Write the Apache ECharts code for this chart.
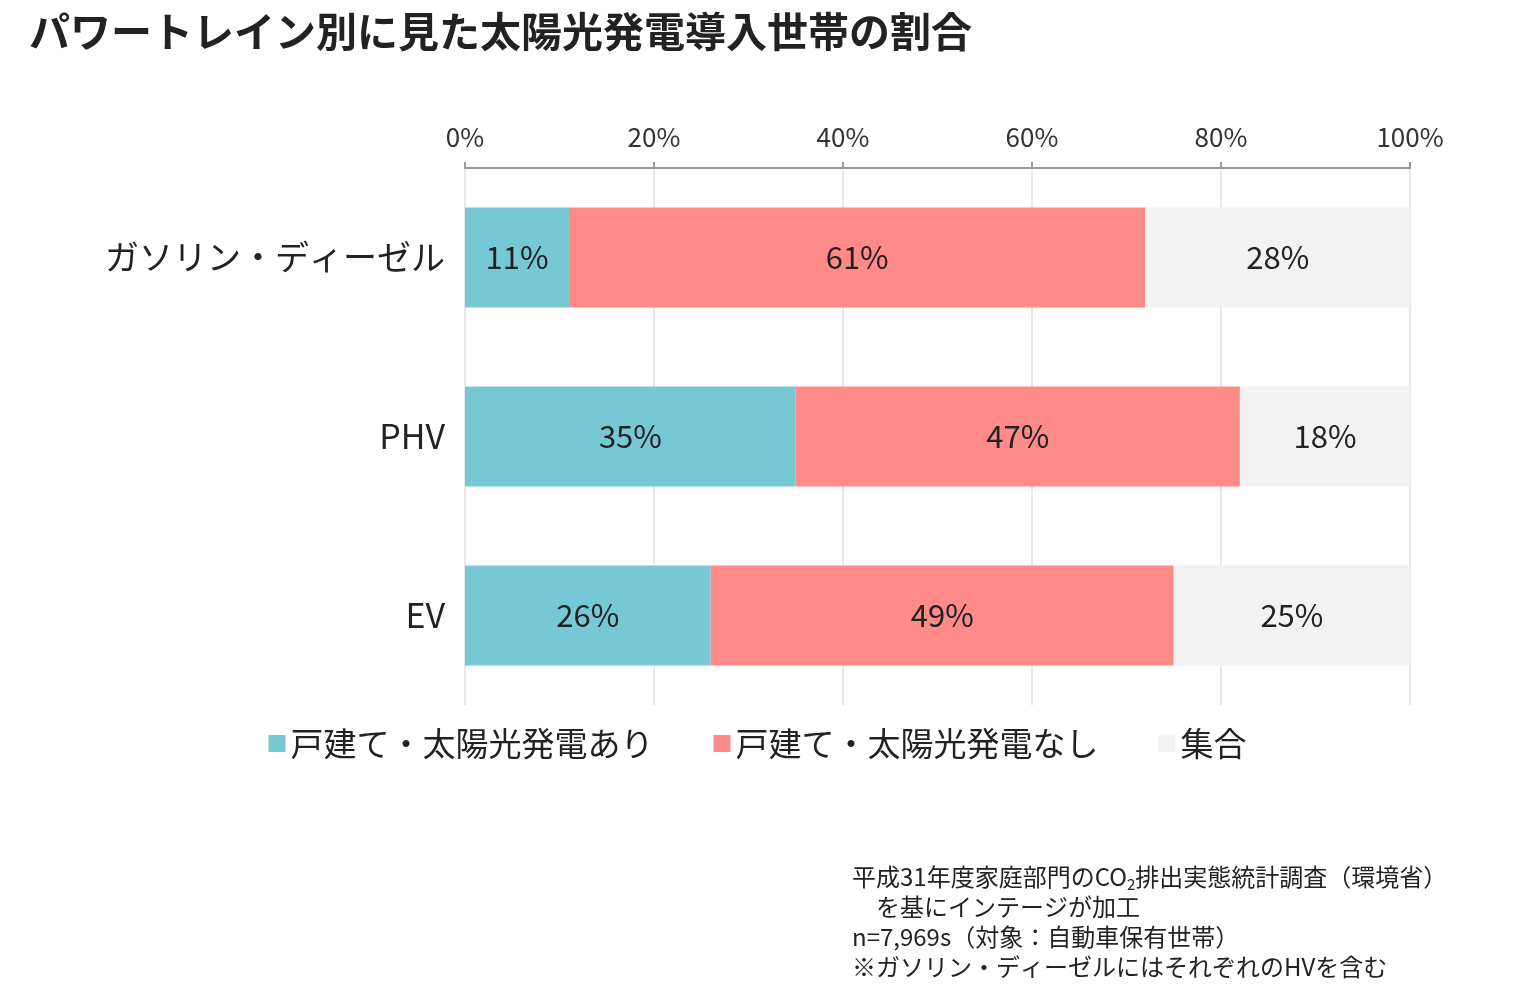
<!DOCTYPE html>
<html><head><meta charset="utf-8">
<script src="https://cdn.jsdelivr.net/npm/echarts@6/dist/echarts.min.js"></script>
<style>html,body{margin:0;padding:0;background:#fff}#c{width:1515px;height:1002px}</style>
</head><body><div id="c"></div>
<script>
const categories = ['ガソリン・ディーゼル', 'PHV', 'EV'];
const seriesNames = ['戸建て・太陽光発電あり', '戸建て・太陽光発電なし', '集合'];
const withSolar = [11, 35, 26];
const withoutSolar = [61, 47, 49];
const apartment = [28, 18, 25];
const colors = ['#77C8D5', '#FF8A88', '#F2F2F2'];
const font = '"Noto Sans CJK JP", "Noto Sans", sans-serif';
const chart = echarts.init(document.getElementById('c'));
const mk = (name, data, color) => ({
  name, type: 'bar', stack: 's', data, barWidth: 100,
  itemStyle: { color },
  label: { show: true, formatter: '{c}%', fontSize: 31, color: '#222', fontFamily: font },
  emphasis: { disabled: true }
});
chart.setOption({
  animation: false,
  title: { text: 'パワートレイン別に見た太陽光発電導入世帯の割合', left: 24, top: 6,
    textStyle: { fontSize: 41, fontWeight: 'bold', color: '#222', fontFamily: font } },
  grid: { left: 465, right: 105, top: 168, bottom: 297 },
  xAxis: { type: 'value', position: 'top', min: 0, max: 100, interval: 20,
    axisLabel: { formatter: '{value}%', fontSize: 26, color: '#333', fontFamily: font, margin: 18 },
    axisLine: { show: true, lineStyle: { color: '#999', width: 2 } },
    axisTick: { show: true, length: 6, lineStyle: { color: '#999', width: 2 } },
    splitLine: { lineStyle: { color: '#e8e8e8', width: 2 } } },
  yAxis: { type: 'category', data: categories, inverse: true,
    axisLine: { show: false }, axisTick: { show: false },
    axisLabel: { fontSize: 34, color: '#222', fontFamily: font, margin: 20 } },
  legend: { data: seriesNames, top: 722, left: 'center', itemWidth: 17, itemHeight: 17, itemGap: 60,
    icon: 'rect', textStyle: { fontSize: 33, color: '#222', fontFamily: font } },
  series: [mk(seriesNames[0], withSolar, colors[0]), mk(seriesNames[1], withoutSolar, colors[1]), mk(seriesNames[2], apartment, colors[2])],
  graphic: [{ type: 'text', left: 852, top: 862, style: {
    text: '平成31年度家庭部門のCO{sub|2}排出実態統計調査（環境省）\n　を基にインテージが加工\nn=7,969s（対象：自動車保有世帯）\n※ガソリン・ディーゼルにはそれぞれのHVを含む',
    font: '24px ' + font, fill: '#222', lineHeight: 30,
    rich: { sub: { fontSize: 15, verticalAlign: 'bottom', padding: [12, 0, 0, 0], fill: '#222', fontFamily: font } } } }]
});
</script></body></html>
